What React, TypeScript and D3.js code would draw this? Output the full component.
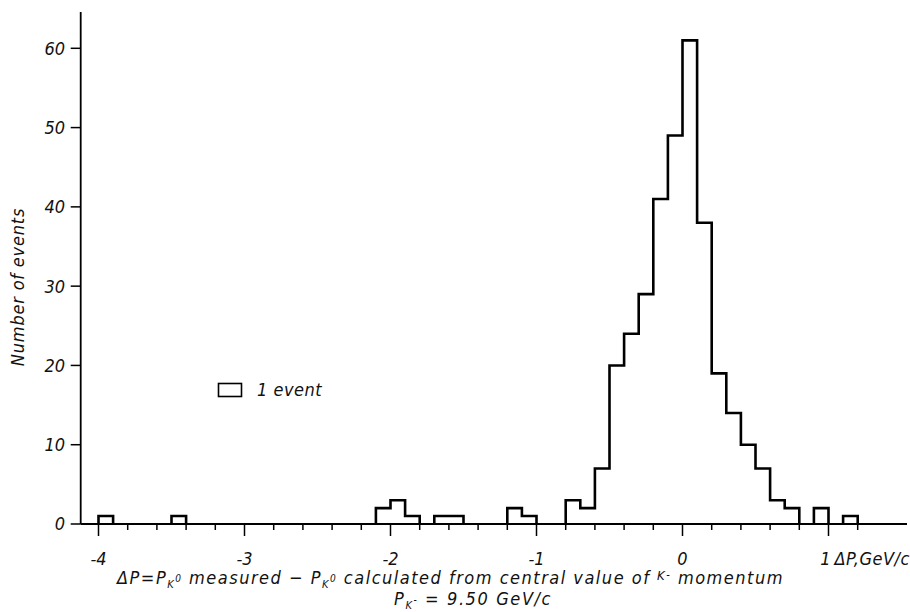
import React from "react";
import * as d3 from "d3";

// Histogram bins (start of bin, width 0.1 GeV/c) and counts
const binStarts = [
  -4.0, -3.9, -3.8, -3.7, -3.6, -3.5, -3.4, -3.3, -3.2, -3.1,
  -3.0, -2.9, -2.8, -2.7, -2.6, -2.5, -2.4, -2.3, -2.2, -2.1,
  -2.0, -1.9, -1.8, -1.7, -1.6, -1.5, -1.4, -1.3, -1.2, -1.1,
  -1.0, -0.9, -0.8, -0.7, -0.6, -0.5, -0.4, -0.3, -0.2, -0.1,
  0.0, 0.1, 0.2, 0.3, 0.4, 0.5, 0.6, 0.7, 0.8, 0.9,
  1.0, 1.1,
];
const counts = [
  1, 0, 0, 0, 0, 1, 0, 0, 0, 0,
  0, 0, 0, 0, 0, 0, 0, 0, 0, 2,
  3, 1, 0, 1, 1, 0, 0, 0, 2, 1,
  0, 0, 3, 2, 7, 20, 24, 29, 41, 49,
  61, 38, 19, 14, 10, 7, 3, 2, 0, 2,
  0, 1,
];
const binWidth = 0.1;

const yTickValues = [0, 10, 20, 30, 40, 50, 60];
const xMajorTicks = [-4, -3, -2, -1, 0];
const xTickLabels = ["-4", "-3", "-2", "-1", "0"];
const xMinorTicks = d3.range(-20, 7).map((i) => i / 5);

const FONT = "'DejaVu Sans Condensed', 'DejaVu Sans', sans-serif";

export default function App() {
  const x = d3.scaleLinear().domain([-4, 1]).range([98.5, 828.5]);
  const y = d3.scaleLinear().domain([0, 60]).range([524, 48.3]);

  // contiguous non-zero runs
  const runs: { s: number; c: number }[][] = [];
  let cur: { s: number; c: number }[] = [];
  counts.forEach((c, i) => {
    if (c > 0) cur.push({ s: binStarts[i], c });
    else if (cur.length) {
      runs.push(cur);
      cur = [];
    }
  });
  if (cur.length) runs.push(cur);

  const line = d3
    .line<[number, number]>()
    .x((d) => x(d[0]))
    .y((d) => y(d[1]))
    .curve(d3.curveStepAfter);

  const paths = runs.map((r) => {
    const pts: [number, number][] = [[r[0].s, 0]];
    r.forEach((b) => pts.push([b.s, b.c]));
    const last = r[r.length - 1];
    pts.push([last.s + binWidth, last.c]);
    pts.push([last.s + binWidth, 0]);
    return line(pts) as string;
  });

  const axisX = 80.7;
  const baseY = y(0);
  const txt = { fontFamily: FONT, fontStyle: "italic" as const, fill: "#111" };

  return (
    <svg
      width={910}
      height={612}
      style={{ position: "absolute", left: 0, top: 0, background: "#fff" }}
    >
      <rect x={0} y={0} width={910} height={612} fill="#fff" />
      {/* axes */}
      <line x1={axisX} y1={12} x2={axisX} y2={baseY} stroke="#000" strokeWidth={1.8} />
      <line x1={axisX} y1={baseY} x2={907} y2={baseY} stroke="#000" strokeWidth={1.8} />
      {yTickValues.map((v) => (
        <g key={"y" + v}>
          <line x1={axisX - 10} x2={axisX} y1={y(v)} y2={y(v)} stroke="#000" strokeWidth={1.5} />
          <text x={65} y={y(v)} dy="0.36em" textAnchor="end" fontSize={18} {...txt}>
            {v}
          </text>
        </g>
      ))}
      {xMinorTicks.map((v) => {
        const major = Math.abs(v - Math.round(v)) < 1e-6;
        return (
          <line
            key={"xt" + v}
            x1={x(v)}
            x2={x(v)}
            y1={baseY}
            y2={baseY + (major ? 12 : 6)}
            stroke="#000"
            strokeWidth={1.5}
          />
        );
      })}
      {xMajorTicks.map((v, i) => (
        <text key={"xl" + v} x={x(v)} y={565} textAnchor="middle" fontSize={18} {...txt}>
          {xTickLabels[i]}
        </text>
      ))}
      <text x={x(1) - 3} y={565} textAnchor="middle" fontSize={18} {...txt}>
        1
      </text>
      <text x={x(1) + 6} y={565} fontSize={18} letterSpacing={0.5} {...txt}>
        ΔP,GeV/c
      </text>

      {/* histogram */}
      {paths.map((d, i) => (
        <path key={"h" + i} d={d} fill="none" stroke="#000" strokeWidth={2.6} strokeLinejoin="miter" />
      ))}

      {/* legend */}
      <rect x={218.5} y={383.5} width={23} height={13} fill="none" stroke="#000" strokeWidth={1.6} />
      <text x={257} y={396} fontSize={18} letterSpacing={0.5} {...txt}>
        1 event
      </text>

      {/* y title */}
      <text
        transform="translate(24,287) rotate(-90)"
        textAnchor="middle"
        fontSize={18}
        letterSpacing={0.8}
        {...txt}
      >
        Number of events
      </text>

      {/* x title */}
      <text x={117} y={584} fontSize={18} letterSpacing={1.5} {...txt}>
        <tspan>ΔP=P</tspan>
        <tspan fontSize={11} dy={4}>K</tspan>
        <tspan fontSize={10} dy={-6}>0</tspan>
        <tspan dy={2}> measured − P</tspan>
        <tspan fontSize={11} dy={4}>K</tspan>
        <tspan fontSize={10} dy={-6}>0</tspan>
        <tspan dy={2}> calculated  from central value of </tspan>
        <tspan fontSize={13} dy={-4}>K</tspan>
        <tspan fontSize={11} dy={-2}>-</tspan>
        <tspan dy={6}> momentum</tspan>
      </text>
      <text x={394} y={605} fontSize={18} letterSpacing={1.6} {...txt}>
        <tspan>P</tspan>
        <tspan fontSize={11} dy={4}>K</tspan>
        <tspan fontSize={10} dy={-6}>-</tspan>
        <tspan dy={2}>  = 9.50 GeV/c</tspan>
      </text>
    </svg>
  );
}
